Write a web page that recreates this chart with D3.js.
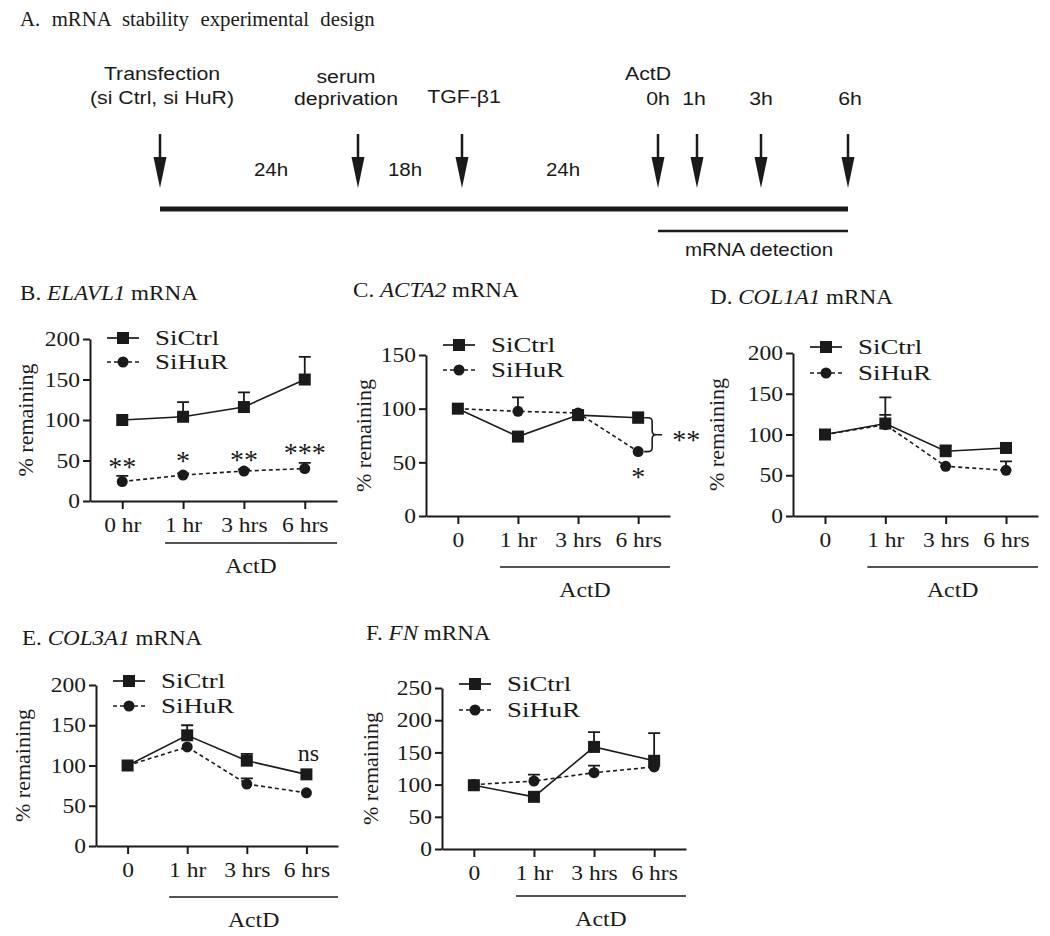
<!DOCTYPE html>
<html><head><meta charset="utf-8">
<script src="https://cdn.jsdelivr.net/npm/d3@7"></script>
<style>body{margin:0;background:#fff} svg{display:block}</style>
</head><body>
<svg id="chart" width="1050" height="936"></svg>
<script>
// ---------- DATA ----------
const timeLabelsB = ["0 hr", "1 hr", "3 hrs", "6 hrs"];
const timeLabels = ["0", "1 hr", "3 hrs", "6 hrs"];
const seriesNames = ["SiCtrl", "SiHuR"];

// Panel A: experimental design (hours from transfection)
const eventHours = [0, 24, 42, 66, 67, 69, 72];
const eventTopLabels = [["Transfection", "(si Ctrl, si HuR)"], ["serum", "deprivation"], ["", "TGF-\u03B21"], ["ActD", "0h"], ["", "1h"], ["", "3h"], ["", "6h"]];
const intervalLabels = ["24h", "18h", "24h"];

// B. ELAVL1
const elavl1Ctrl = [100, 104, 116, 150];
const elavl1CtrlErr = [0, 18, 18, 28];
const elavl1HuR = [24, 32, 37, 40];
const elavl1HuRErr = [7, 2, 2, 7];
const elavl1Stars = ["**", "*", "**", "***"];
const elavl1StarAt = [48, 55, 57, 65];
const elavl1Ticks = [0, 50, 100, 150, 200];

// C. ACTA2
const acta2Ctrl = [100, 74, 94, 91.5];
const acta2CtrlErr = [0, 0, 4, 5];
const acta2HuR = [100, 97.5, 96, 60];
const acta2HuRErr = [0, 13, 0, 0];
const acta2Ticks = [0, 50, 100, 150];

// D. COL1A1
const col1a1Ctrl = [100, 113.5, 79.5, 83.5];
const col1a1CtrlErr = [0, 32, 7, 0];
const col1a1HuR = [100, 112, 61, 56];
const col1a1HuRErr = [0, 12, 0, 11];
const col1a1Ticks = [0, 50, 100, 150, 200];

// E. COL3A1
const col3a1Ctrl = [100, 137.5, 106, 89];
const col3a1CtrlErr = [0, 12.5, 8.5, 0];
const col3a1HuR = [100, 123, 77, 66];
const col3a1HuRErr = [0, 0, 7, 0];
const col3a1Ticks = [0, 50, 100, 150, 200];

// F. FN
const fnCtrl = [99, 81, 158.5, 137];
const fnCtrlErr = [0, 0, 23, 43];
const fnHuR = [100, 105.5, 118.5, 127.5];
const fnHuRErr = [0, 10, 11, 0];
const fnTicks = [0, 50, 100, 150, 200, 250];

// ---------- DRAW ----------
const svg = d3.select("#chart");
const INK = "#1a1a1a";
const SERIF = "'Liberation Serif','Times New Roman',serif";
const SANS = "'Liberation Sans',Arial,sans-serif";

// text helper with optional horizontal stretch
function txt(g, x, y, s, o = {}) {
  const t = g.append("text")
    .attr("transform", `translate(${x},${y}) scale(${o.sx || 1},1)`)
    .attr("font-family", o.family || SERIF).attr("font-size", o.size || 22)
    .attr("fill", INK).attr("text-anchor", o.anchor || "start");
  if (o.baseline) t.attr("dominant-baseline", o.baseline);
  if (o.dy) t.attr("dy", o.dy);
  if (o.ws) t.attr("word-spacing", o.ws);
  if (s !== null) t.text(s);
  return t;
}

// ----- Panel A -----
const gA = svg.append("g");
txt(gA, 20, 26, "A. mRNA stability experimental design", {size: 20, sx: 1.04, ws: 6});

const tx = d3.scaleLinear().domain(eventHours).range([160, 358, 462, 658, 697, 761, 848]);
const timelineY = 209;
gA.append("line").attr("x1", tx(0)).attr("x2", tx(72)).attr("y1", timelineY).attr("y2", timelineY)
  .attr("stroke", INK).attr("stroke-width", 5);
gA.append("line").attr("x1", tx(66)).attr("x2", tx(72)).attr("y1", 231).attr("y2", 231)
  .attr("stroke", INK).attr("stroke-width", 2.5);
txt(gA, (tx(66) + tx(72)) / 2 + 6, 256, "mRNA detection", {family: SANS, size: 19, sx: 1.08, anchor: "middle"});

eventHours.forEach((h) => {
  const x = tx(h);
  gA.append("line").attr("x1", x).attr("x2", x).attr("y1", 134).attr("y2", 160)
    .attr("stroke", INK).attr("stroke-width", 2.5);
  gA.append("path").attr("d", `M${x - 6.5},157 L${x + 6.5},157 L${x},188 Z`).attr("fill", INK);
});
const topLab = [
  {y: [80, 104], dx: 2},
  {y: [83, 105], dx: -12},
  {y: [0, 103], dx: 2},
  {y: [80, 105], dx: 0},
  {y: [0, 105], dx: -3},
  {y: [0, 105], dx: 0},
  {y: [0, 105], dx: 2}
];
topLab.forEach((t, i) => {
  eventTopLabels[i].forEach((s, k) => {
    if (!s) return;
    let x = tx(eventHours[i]) + t.dx;
    if (i === 3 && k === 0) x -= 10;
    txt(gA, x, t.y[k], s, {family: SANS, size: 19, sx: 1.12, anchor: "middle"});
  });
});
intervalLabels.forEach((s, i) => {
  const x = (tx(eventHours[i]) + tx(eventHours[i + 1])) / 2 + [12, -5, 3][i];
  txt(gA, x, 176, s, {family: SANS, size: 19, sx: 1.08, anchor: "middle"});
});

// ----- line panels -----
function drawPanel(c) {
  const g = svg.append("g");
  const y = d3.scaleLinear().domain([0, d3.max(c.ticks)]).range([c.y0, c.yTop]);
  const x = d3.scalePoint().domain(c.cats).range([c.axL, c.axR]).padding(0.53);

  // title
  const t = txt(g, c.titleX, c.titleY, null, {size: 21, sx: 1.1});
  t.append("tspan").text(c.letter + " ");
  t.append("tspan").attr("font-style", "italic").text(c.gene);
  t.append("tspan").text(" mRNA");

  // axes
  const ya = g.append("g").attr("transform", `translate(${c.axL},0)`)
    .call(d3.axisLeft(y).tickValues(c.ticks).tickSize(7).tickSizeOuter(0).tickPadding(2));
  const xa = g.append("g").attr("transform", `translate(0,${c.y0})`)
    .call(d3.axisBottom(x).tickSize(8).tickSizeOuter(0).tickPadding(8));
  [ya, xa].forEach(a => {
    a.selectAll("path,line").attr("stroke", INK).attr("stroke-width", 2);
    a.selectAll("text").attr("font-family", SERIF).attr("font-size", 21).attr("fill", INK)
      .attr("transform", "scale(1.12,1)");
  });

  // y label
  g.append("text").attr("transform", `translate(${c.ylabX},${(c.y0 + c.yTop) / 2}) rotate(-90)`)
    .attr("text-anchor", "middle").attr("dominant-baseline", "central")
    .attr("font-family", SERIF).attr("font-size", 22).attr("fill", INK).text("% remaining");

  // ActD bar
  const ax1 = x(c.cats[1]) - 18;
  g.append("line").attr("x1", ax1).attr("x2", c.axR).attr("y1", c.actY).attr("y2", c.actY)
    .attr("stroke", INK).attr("stroke-width", 1.6);
  txt(g, (ax1 + c.axR) / 2, c.actY + 30, "ActD", {size: 22, sx: 1.08, anchor: "middle"});

  const series = [
    {name: seriesNames[1], v: c.huR, e: c.huRErr, dash: "4,3", shape: "circle"},
    {name: seriesNames[0], v: c.ctrl, e: c.ctrlErr, dash: null, shape: "square"}
  ];
  const line = d3.line().x((d, i) => x(c.cats[i])).y(d => y(d));
  series.forEach(s => {
    s.v.forEach((v, i) => {
      if (!s.e[i]) return;
      const xx = x(c.cats[i]), yt = y(v + s.e[i]);
      g.append("path").attr("d", `M${xx},${y(v)} V${yt} M${xx - 6},${yt} H${xx + 6}`)
        .attr("stroke", INK).attr("stroke-width", 1.8).attr("fill", "none");
    });
  });
  series.forEach(s => {
    g.append("path").datum(s.v).attr("d", line).attr("fill", "none")
      .attr("stroke", INK).attr("stroke-width", 1.6)
      .attr("stroke-dasharray", s.dash);
  });
  function marker(sel, shape, cx, cy) {
    if (shape === "square") sel.append("rect").attr("x", cx - 6).attr("y", cy - 6).attr("width", 12).attr("height", 12).attr("fill", INK);
    else sel.append("circle").attr("cx", cx).attr("cy", cy).attr("r", 5.5).attr("fill", INK);
  }
  series.forEach(s => s.v.forEach((v, i) => marker(g, s.shape, x(c.cats[i]), y(v))));

  // legend
  [series[1], series[0]].forEach((s, k) => {
    const ly = c.legY[k];
    g.append("line").attr("x1", c.axL + 17).attr("x2", c.axL + 49).attr("y1", ly).attr("y2", ly)
      .attr("stroke", INK).attr("stroke-width", 1.7).attr("stroke-dasharray", s.dash);
    marker(g, s.shape, c.axL + 33, ly);
    txt(g, c.axL + 65, ly, s.name, {size: 21, sx: 1.28, baseline: "central"});
  });

  if (c.extra) c.extra(g, x, y);
}

function stars(g, xx, yc, s) {
  txt(g, xx, yc, s, {size: 28, anchor: "middle", dy: "0.5em"});
}

drawPanel({letter: "B.", gene: "ELAVL1", titleX: 20, titleY: 300, cats: timeLabelsB,
  ticks: elavl1Ticks, y0: 501, yTop: 339, axL: 90, axR: 337, ylabX: 25, actY: 543,
  ctrl: elavl1Ctrl, ctrlErr: elavl1CtrlErr, huR: elavl1HuR, huRErr: elavl1HuRErr, legY: [338, 362],
  extra: (g, x, y) => elavl1Stars.forEach((s, i) => stars(g, x(timeLabelsB[i]), y(elavl1StarAt[i]), s))
});
drawPanel({letter: "C.", gene: "ACTA2", titleX: 353, titleY: 297, cats: timeLabels,
  ticks: acta2Ticks, y0: 516, yTop: 355, axL: 426, axR: 670, ylabX: 363, actY: 567,
  ctrl: acta2Ctrl, ctrlErr: acta2CtrlErr, huR: acta2HuR, huRErr: acta2HuRErr, legY: [345, 370],
  extra: (g, x, y) => {
    const xx = x(timeLabels[3]);
    const ya = y(acta2Ctrl[3]), yb = y(acta2HuR[3]), ym = (ya + yb) / 2;
    const bx = xx + 14, r = 4;
    g.append("path").attr("d",
      `M${xx + 6},${ya} H${bx - r} Q${bx},${ya} ${bx},${ya + r} V${ym - r} Q${bx},${ym} ${bx + r},${ym} H${bx + 10}` +
      ` M${bx + r},${ym} Q${bx},${ym} ${bx},${ym + r} V${yb - r} Q${bx},${yb} ${bx - r},${yb} H${xx + 6}`)
      .attr("fill", "none").attr("stroke", INK).attr("stroke-width", 1.6);
    stars(g, bx + 34, ym, "**");
    stars(g, xx, y(41), "*");
  }
});
drawPanel({letter: "D.", gene: "COL1A1", titleX: 710, titleY: 304, cats: timeLabels,
  ticks: col1a1Ticks, y0: 516, yTop: 353, axL: 793, axR: 1038, ylabX: 716, actY: 567,
  ctrl: col1a1Ctrl, ctrlErr: col1a1CtrlErr, huR: col1a1HuR, huRErr: col1a1HuRErr, legY: [347, 373]
});
drawPanel({letter: "E.", gene: "COL3A1", titleX: 22, titleY: 645, cats: timeLabels,
  ticks: col3a1Ticks, y0: 846, yTop: 685, axL: 96, axR: 338, ylabX: 22, actY: 897,
  ctrl: col3a1Ctrl, ctrlErr: col3a1CtrlErr, huR: col3a1HuR, huRErr: col3a1HuRErr, legY: [681, 706],
  extra: (g, x, y) => {
    txt(g, x(timeLabels[3]) + 2, y(115), "ns", {size: 23, anchor: "middle", baseline: "central", sx: 1.05});
  }
});
drawPanel({letter: "F.", gene: "FN", titleX: 366, titleY: 640, cats: timeLabels,
  ticks: fnTicks, y0: 849, yTop: 688, axL: 442, axR: 686, ylabX: 370, actY: 896,
  ctrl: fnCtrl, ctrlErr: fnCtrlErr, huR: fnHuR, huRErr: fnHuRErr, legY: [684, 710]
});
</script>
</body></html>
